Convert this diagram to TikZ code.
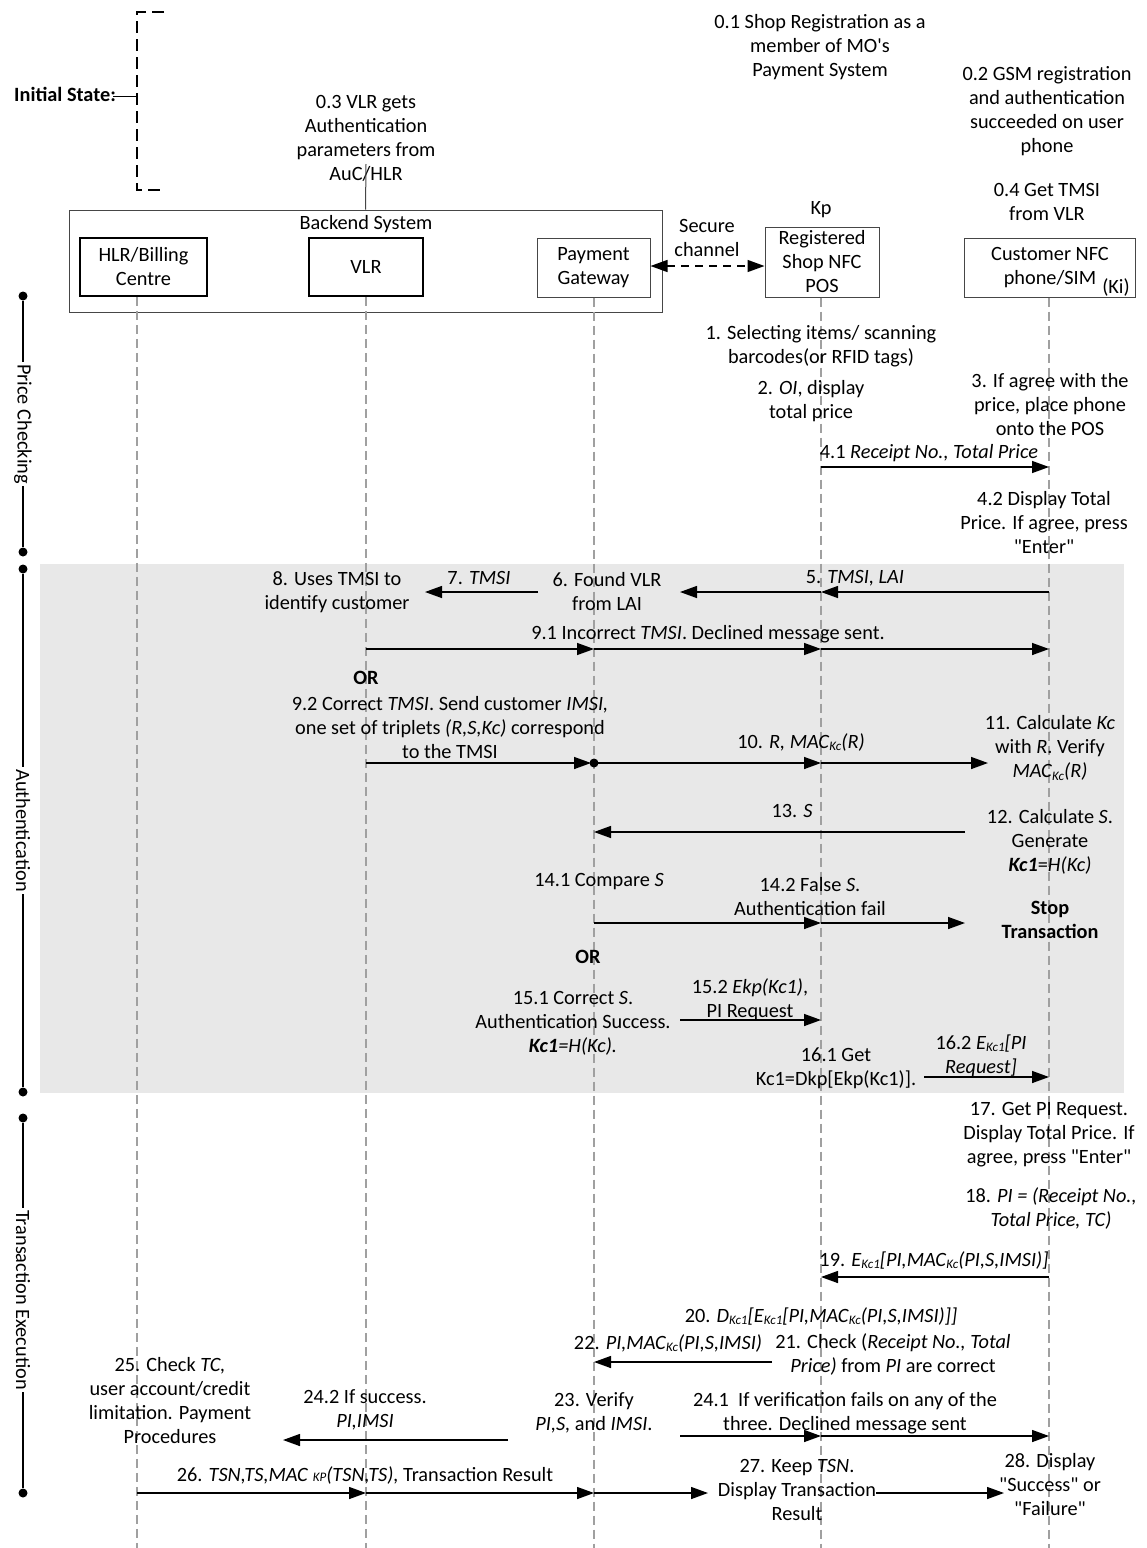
\documentclass[tikz,border=0pt]{standalone}
\usepackage{fontspec}
\setmainfont{Carlito}[Ligatures=TeXOff]
\usetikzlibrary{arrows.meta}
\definecolor{shadegray}{RGB}{232,232,232}
\definecolor{lifegray}{RGB}{160,160,160}
\definecolor{boxgray}{RGB}{70,70,70}
\newcommand\sbk[1]{\raisebox{-2.5pt}{\fontsize{13}{13}\selectfont\itshape #1}}
\newcommand\sbp[1]{{\fontsize{13}{13}\selectfont\itshape #1}}
\begin{document}
\begin{tikzpicture}[x=1pt,y=-1pt,
 every node/.style={font=\fontsize{20.3}{24}\selectfont},
 lbl/.style={inner sep=0pt, align=center},
 thinbox/.style={draw=boxgray, line width=1pt, inner sep=0pt, align=center},
 thickbox/.style={draw=black, line width=1.6pt, inner sep=0pt, align=center},
 msg/.style={line width=1.4pt, -{Triangle[length=17pt,width=12pt]}},
 lifeline/.style={draw=lifegray, line width=1.2pt, dash pattern=on 9pt off 5pt},
 phaseline/.style={line width=1.5pt},
 phasedot/.style={circle, fill=black, inner sep=0pt, minimum size=9pt},
 phaselbl/.style={rotate=-90, fill=white, inner sep=2pt},
]
\useasboundingbox (0,0) rectangle (1147,1548);
\coordinate (bot) at (0,1548);
% lifeline x positions
\coordinate (Lh) at (137,0);
\coordinate (Lv) at (366,0);
\coordinate (Lg) at (594,0);
\coordinate (Lp) at (821,0);
\coordinate (Lc) at (1049,0);

% shaded authentication area
\fill[shadegray] (40,564) rectangle (1124,1093);

% initial state
\draw[line width=1.2pt, dash pattern=on 12pt off 6pt] (164,12) -- (137,12) -- (137,190) -- (164,190);
\coordinate (brk) at (137,96);
\node[anchor=west, inner sep=0pt] (init) at (14,94) {\bfseries Initial State:};
\draw[line width=1pt] ([xshift=-3pt]init.east |- brk) -- (brk);

% top notes
\node[lbl] (t01) at (820,47) {0.1 Shop Registration as a\\member of MO's\\Payment System};
\node[lbl] (t02) at (1047,111) {0.2 GSM registration\\and authentication\\succeeded on user\\phone};
\node[lbl] (t04) at (1047,201.5) {0.4 Get TMSI\\from VLR};
\node[lbl] (t03) at (366,138) {0.3 VLR gets\\Authentication\\parameters from\\AuC/HLR};

% boxes
\node[thinbox, minimum width=593pt, minimum height=102pt] (backend) at (365.5,261) {};
\node[lbl] (backendlbl) at (366,224) {Backend System};
\coordinate (c03) at (366,164);
\draw[line width=1pt, draw=boxgray] (c03) -- (backend.north);
\node[thickbox, minimum width=127pt, minimum height=58pt] (hlr) at (143.5,267) {HLR/Billing\\Centre};
\node[thickbox, minimum width=114pt, minimum height=58pt] (vlr) at (366,267) {VLR};
\node[thinbox, minimum width=113pt, minimum height=59pt] (pg) at (593.5,267.5) {Payment\\Gateway};
\node[thinbox, minimum width=114pt, minimum height=70pt] (pos) at (822,262) {Registered\\Shop NFC\\POS};
\node[thinbox, minimum width=171pt, minimum height=59pt] (cus) at (1050,267.5) {Customer NFC\\phone/SIM};
\node[lbl] (ki) at (1116,287) {(Ki)};
\node[lbl] (kp) at (821,210) {Kp};
\node[lbl] (sec) at (707,238) {Secure\\channel};
\draw[line width=1.4pt, dash pattern=on 8pt off 6pt, {Triangle[length=17pt,width=12pt]}-{Triangle[length=17pt,width=12pt]}] (pg.east |- 0,266) -- (pos.west |- 0,266);

% lifelines
\draw[lifeline] (hlr.south -| Lh) -- (Lh |- bot);
\draw[lifeline] (vlr.south -| Lv) -- (Lv |- bot);
\draw[lifeline] (pg.south -| Lg) -- (Lg |- bot);
\draw[lifeline] (pos.south -| Lp) -- (Lp |- bot);
\draw[lifeline] (cus.south -| Lc) -- (Lc |- bot);

% phase bars
\node[phasedot] (pc1) at (23,296) {};
\node[phasedot] (pc2) at (23,552) {};
\draw[phaseline] (pc1) -- (pc2);
\node[phaselbl] (pcl) at (23,424) {Price Checking};
\node[phasedot] (au1) at (23,569) {};
\node[phasedot] (au2) at (23,1092) {};
\draw[phaseline] (au1) -- (au2);
\node[phaselbl] (aul) at (23,830.5) {Authentication};
\node[phasedot] (tx1) at (23,1118) {};
\node[phasedot] (tx2) at (23,1493) {};
\draw[phaseline] (tx1) -- (tx2);
\node[phaselbl] (txl) at (23,1300) {Transaction Execution};

% ---------- Price checking ----------
\node[lbl] (l1) at (821,346) {1. Selecting items/ scanning\\barcodes(or RFID tags)};
\node[lbl] (l2) at (811,401) {2. \textit{OI}, display\\total price};
\node[lbl] (l3) at (1050,405) {3. If agree with the\\price, place phone\\onto the POS};
\coordinate (r41) at (0,467);
\draw[msg] (Lp |- r41) -- (Lc |- r41);
\node[lbl] (l41) at (929,453) {4.1 \textit{Receipt No., Total Price}};
\node[lbl] (l42) at (1044,523) {4.2 Display Total\\Price. If agree, press\\"Enter"};

% ---------- Authentication ----------
\coordinate (r5) at (0,592);
\coordinate (e5) at (680,592);
\coordinate (s7) at (538,592);
\coordinate (e7) at (425,592);
\draw[msg] (Lc |- r5) -- (Lp |- r5);
\draw[msg] (Lp |- r5) -- (e5);
\draw[msg] (s7) -- (e7);
\node[lbl] (l5) at (855,578) {5. \textit{TMSI, LAI}};
\node[lbl] (l6) at (607,592) {6. Found VLR\\from LAI};
\node[lbl] (l7) at (479,578) {7. \textit{TMSI}};
\node[lbl] (l8) at (337,592) {8. Uses TMSI to\\identify customer};

\coordinate (r91) at (0,649);
\draw[msg] (Lv |- r91) -- (Lg |- r91);
\draw[msg] (Lg |- r91) -- (Lp |- r91);
\draw[msg] (Lp |- r91) -- (Lc |- r91);
\node[lbl] (l91) at (708,634) {9.1 Incorrect \textit{TMSI}. Declined message sent.};
\node[lbl] (or1) at (366,678) {\bfseries OR};
\node[lbl] (l92) at (450,728) {9.2 Correct \textit{TMSI}. Send customer \textit{IMSI,}\\one set of triplets \textit{(R,S,Kc)} correspond\\to the TMSI};

\coordinate (r92) at (0,763);
\coordinate (e10) at (988,763);
\draw[msg] (Lv |- r92) -- ([xshift=-3pt]Lg |- r92);
\node[circle, fill=black, inner sep=0pt, minimum size=9pt] (jd) at (Lg |- r92) {};
\draw[msg] (jd.center) -- (Lp |- r92);
\draw[msg] (Lp |- r92) -- (e10);
\node[lbl] (l10) at (801,742) {10. \textit{R, MAC}\sbk{Kc}\textit{(R)}};
\node[lbl] (l11) at (1050,748) {11. Calculate \textit{Kc}\\with \textit{R}. Verify\\\textit{MAC}\sbk{Kc}\textit{(R)}};

\coordinate (s13) at (965,832);
\draw[msg] (s13) -- (Lg |- s13);
\node[lbl] (l13) at (792,811) {13. \textit{S}};
\node[lbl] (l12) at (1050,842) {12. Calculate \textit{S}.\\Generate\\\textbf{\textit{Kc1}}=\textit{H(Kc)}};

\node[lbl] (l141) at (599,882) {14.1 Compare \textit{S}};
\coordinate (r14) at (0,923);
\coordinate (e14) at (965,923);
\draw[msg] (Lg |- r14) -- (Lp |- r14);
\draw[msg] (Lp |- r14) -- (e14);
\node[lbl] (l142) at (810,897) {14.2 False \textit{S}.\\Authentication fail};
\node[lbl] (stop) at (1050,919.5) {\bfseries Stop\\\bfseries Transaction};
\node[lbl] (or2) at (588,957) {\bfseries OR};

\node[lbl] (l151) at (573,1023) {15.1 Correct \textit{S}.\\Authentication Success.\\\textbf{\textit{Kc1}}\textit{=H(Kc).}};
\coordinate (s15) at (680,1020);
\draw[msg] (s15) -- (Lp |- s15);
\node[lbl] (l152) at (750,999.5) {15.2 \textit{Ekp(Kc1)},\\PI Request};
\node[lbl] (l161) at (836,1068) {16.1 Get\\Kc1=Dkp[Ekp(Kc1)].};
\coordinate (s16) at (924,1077);
\draw[msg] (s16) -- (Lc |- s16);
\node[lbl] (l162) at (981,1055.5) {16.2 \textit{E}\sbk{Kc1}\textit{[PI}\\\textit{Request]}};

% ---------- Transaction execution ----------
\node[lbl] (l17) at (1049,1134.5) {17. Get PI Request.\\Display Total Price. If\\agree, press "Enter"};
\node[lbl] (l18) at (1051,1208) {18. \textit{PI = (Receipt No.,}\\\textit{Total Price, TC)}};
\coordinate (r19) at (0,1277);
\draw[msg] (Lc |- r19) -- (Lp |- r19);
\node[lbl] (l19) at (934,1260) {19. \textit{E}\sbk{Kc1}\textit{[PI,MAC}\sbk{Kc}\textit{(PI,S,IMSI)]}};
\node[lbl] (l20) at (821,1316) {20. \textit{D}\sbk{Kc1}\textit{[E}\sbk{Kc1}\textit{[PI,MAC}\sbk{Kc}\textit{(PI,S,IMSI)]]}};
\coordinate (s22) at (772,1362);
\draw[msg] (s22) -- (Lg |- s22);
\node[lbl] (l22) at (668,1343) {22. \textit{PI,MAC}\sbk{Kc}\textit{(PI,S,IMSI)}};
\node[lbl] (l21) at (893,1354) {21. Check (\textit{Receipt No., Total}\\\textit{Price)} from \textit{PI} are correct};
\node[lbl] (l23) at (594,1413) {23. Verify\\\textit{PI,S,} and \textit{IMSI}.};
\coordinate (s241) at (680,1436);
\draw[msg] (s241) -- (Lp |- s241);
\draw[msg] (Lp |- s241) -- (Lc |- s241);
\node[lbl] (l241) at (845,1413) {24.1\ \ If verification fails on any of the\\three. Declined message sent};
\coordinate (s242) at (508,1440);
\coordinate (e242) at (283,1440);
\draw[msg] (s242) -- (e242);
\node[lbl] (l242) at (365,1410) {24.2 If success.\\\textit{PI,IMSI}};
\node[lbl] (l25) at (170,1401) {25. Check \textit{TC,}\\user account/credit\\limitation. Payment\\Procedures};
\coordinate (r26) at (0,1493);
\coordinate (e26) at (708,1493);
\draw[msg] (Lh |- r26) -- (Lv |- r26);
\draw[msg] (Lv |- r26) -- (Lg |- r26);
\draw[msg] (Lg |- r26) -- (e26);
\node[lbl] (l26) at (365,1475) {26. \textit{TSN,TS,MAC }\sbp{KP}\textit{(TSN,TS),} Transaction Result};
\node[lbl] (l27) at (797,1490) {27. Keep \textit{TSN}.\\Display Transaction\\Result};
\coordinate (s27) at (876,1493);
\coordinate (e27) at (1004,1493);
\draw[msg] (s27) -- (e27);
\node[lbl] (l28) at (1050,1485) {28. Display\\"Success" or\\"Failure"};
\end{tikzpicture}
\end{document}
